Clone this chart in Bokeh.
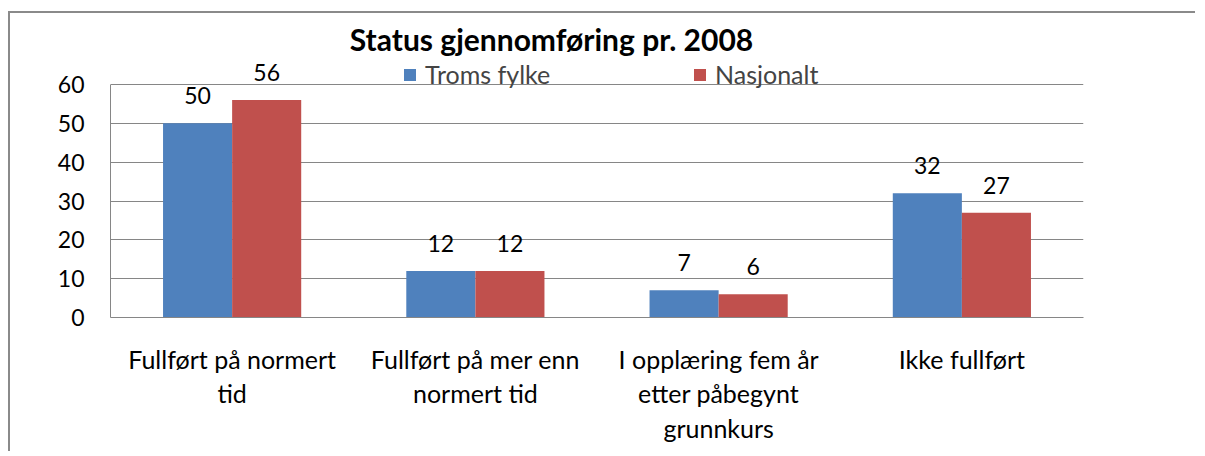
from bokeh.plotting import figure
from bokeh.models import ColumnDataSource, Range1d, FactorRange, Legend, LegendItem, LabelSet, Label, FixedTicker
from bokeh.transform import dodge
from bokeh.core.properties import value
from bokeh.embed import file_html
from bokeh.resources import INLINE

categories = ["Fullført på normert\ntid", "Fullført på mer enn\nnormert tid",
              "I opplæring fem år\netter påbegynt\ngrunnkurs", "Ikke fullført"]
troms = [50, 12, 7, 32]
nasjonalt = [56, 12, 6, 27]
series_names = ["Troms fylke", "Nasjonalt"]
y_ticks = [0, 10, 20, 30, 40, 50, 60]
title_text = "Status gjennomføring pr. 2008"

FONT = "Lato"
BLUE = "#4F81BD"
RED = "#C0504D"
GRAY = "#868686"

# layout (pixels): frame spans full canvas height; gridded part 0..60 occupies lower 233 px
FRAME_H = 304
GRID_H = 233
y_max = y_ticks[-1] * FRAME_H / GRID_H

src = ColumnDataSource(dict(cat=categories, troms=troms, nasj=nasjonalt,
                            troms_s=[str(v) for v in troms],
                            nasj_s=[str(v) for v in nasjonalt]))

p = figure(width=1187, height=440, x_range=FactorRange(*categories), y_range=Range1d(0, y_max),
           output_backend="svg", toolbar_location=None,
           min_border_left=100, min_border_right=114, min_border_top=0, min_border_bottom=136)
p.styles = {"border-left": "2px solid #8a8a8a", "border-top": "2px solid #8a8a8a",
            "position": "relative", "top": "11px", "left": "8px"}
p.outline_line_color = None
p.background_fill_color = "white"
p.border_fill_color = "white"

W = 0.284
r1 = p.vbar(x=dodge("cat", -W / 2, range=p.x_range), top="troms", width=W, source=src,
            fill_color=BLUE, line_color=None)
r2 = p.vbar(x=dodge("cat", W / 2, range=p.x_range), top="nasj", width=W, source=src,
            fill_color=RED, line_color=None)

for col, txt, off in (("troms", "troms_s", -W / 2), ("nasj", "nasj_s", W / 2)):
    ls = LabelSet(x=dodge("cat", off, range=p.x_range), y=col, text=txt, source=src,
                  text_align="center", text_baseline="alphabetic", y_offset=19,
                  text_font=value(FONT), text_font_size="23px", text_color="black")
    p.add_layout(ls)

p.xgrid.grid_line_color = None
p.ygrid.grid_line_color = GRAY
p.ygrid.grid_line_width = 1
p.yaxis.ticker = FixedTicker(ticks=y_ticks)
p.yaxis.bounds = (y_ticks[0], y_ticks[-1])

for ax in (p.xaxis[0], p.yaxis[0]):
    ax.axis_line_color = GRAY
    ax.axis_line_width = 1
    ax.major_tick_in = 0
    ax.major_tick_out = 0
    ax.minor_tick_in = 0
    ax.minor_tick_out = 0
    ax.major_label_text_font = FONT
    ax.major_label_text_color = "black"

p.yaxis.major_label_text_font_size = "23px"
p.xaxis.major_label_text_font_size = "25px"
p.yaxis.major_label_standoff = 26
p.xaxis.major_label_standoff = 26
p.xaxis.major_label_text_line_height = 1.16

title = Label(x=0, y=y_ticks[-1], x_offset=441, y_offset=46, text=title_text, text_align="center",
              text_baseline="alphabetic", text_font=FONT, text_font_size="30px",
              text_font_style="bold", text_color="black")
p.add_layout(title)

legend = Legend(items=[LegendItem(label=series_names[0], renderers=[r1]),
                       LegendItem(label=series_names[1], renderers=[r2])],
                location=(292, 228), orientation="horizontal", padding=0, margin=0,
                spacing=0, glyph_width=15, glyph_height=15, label_width=267,
                label_standoff=8, label_text_font=FONT, label_text_font_size="25px",
                border_line_color=None, background_fill_alpha=0)
p.add_layout(legend, "center")

open("out.html", "w").write(file_html(p, INLINE))
